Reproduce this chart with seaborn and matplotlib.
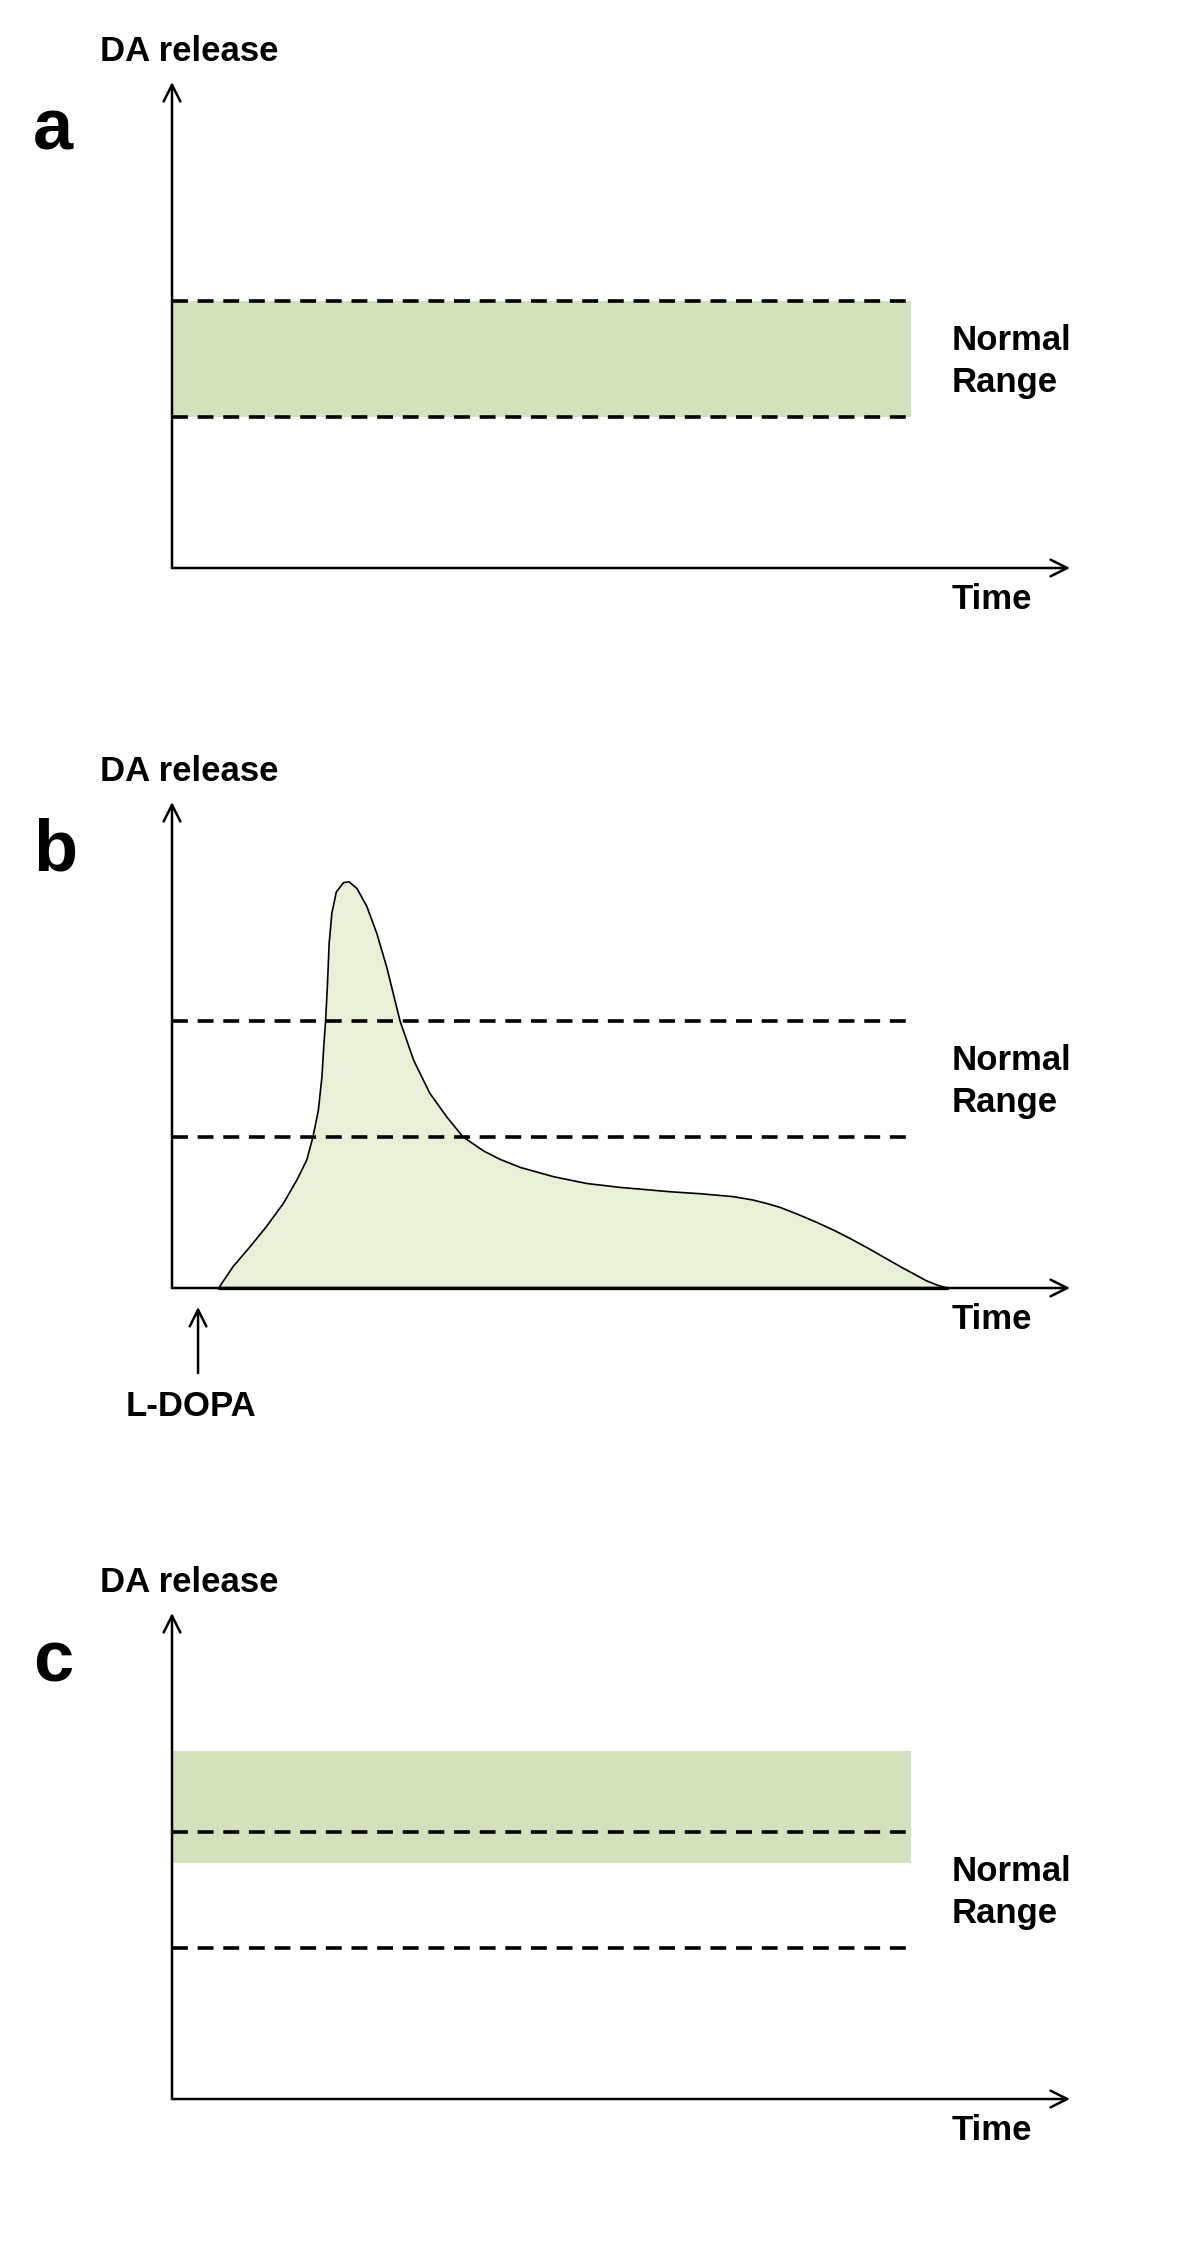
import matplotlib.pyplot as plt
import seaborn as sns

sns.set_style('white')
plt.rcParams['font.family'] = ['Liberation Sans', 'DejaVu Sans']
plt.rcParams['text.color'] = 'black'

# values in axis units (0-100 along each arrow)
normal_low = 31.0
normal_high = 54.9
dash_end = 82.3
band_c_low = 48.6
band_c_high = 71.6
ldopa_at = 2.9

# panel b: DA release after an L-DOPA dose
time_b = [5.2, 6.8, 8.7, 10.5, 12.4, 13.9, 15.0, 15.7, 16.3, 16.7, 16.9,
          17.1, 17.3, 17.5, 17.8, 18.3, 19.1, 19.7, 20.6, 21.7, 22.8, 23.9,
          25.4, 26.9, 28.7, 30.6, 32.4, 34.7, 36.5, 38.8, 42.5, 46.2, 49.9,
          55.5, 58.8, 62.5, 64.7, 66.2, 67.7, 69.9, 71.8, 73.8, 75.6, 77.5,
          79.3, 81.2, 82.7, 84.0, 85.2, 86.3]
da_b = [0.0, 4.4, 8.5, 12.6, 17.4, 22.2, 26.3, 31.1, 36.6, 43.5, 49.7,
        54.9, 62.0, 70.9, 77.1, 81.5, 83.4, 83.6, 82.2, 78.5, 73.0, 66.1,
        54.9, 46.9, 40.1, 35.2, 31.1, 28.2, 26.5, 24.8, 22.9, 21.5, 20.7,
        19.8, 19.4, 18.8, 18.1, 17.4, 16.6, 15.0, 13.5, 11.8, 10.1, 8.2,
        6.3, 4.3, 2.8, 1.5, 0.6, 0.0]

W, H = 1200, 2252
fig = plt.figure(figsize=(W / 100, H / 100), dpi=100)

BAND = '#d3e2bc'
FILL = '#e8f0d8'
TXT = 25
ARROW = dict(arrowstyle='->,head_length=0.6,head_width=0.3', lw=1.8,
             color='black', shrinkA=0, shrinkB=0, mutation_scale=20)


def ftext(x, y, s, size=TXT):
    fig.text(x / W, 1 - y / H, s, fontsize=size, fontweight='bold',
             va='baseline', ha='left', color='black')


def make_panel(axis_y, letter):
    ax = fig.add_axes([172 / W, 1 - axis_y / H, 898 / W, 486 / H])
    ax.set_xlim(0, 100)
    ax.set_ylim(0, 100)
    ax.axis('off')
    ax.annotate('', xy=(1, 0), xytext=(0, 0), xycoords='axes fraction',
                arrowprops=ARROW, annotation_clip=False)
    ax.annotate('', xy=(0, 1), xytext=(0, 0), xycoords='axes fraction',
                arrowprops=ARROW, annotation_clip=False)
    ftext(100, axis_y - 507, 'DA release')
    ftext(33, axis_y - 418, letter, size=52)
    ftext(952, axis_y - 218, 'Normal')
    ftext(952, axis_y - 176, 'Range')
    ftext(952, axis_y + 41, 'Time')
    return ax


def normal_lines(ax):
    for lvl in [normal_low, normal_high]:
        sns.lineplot(x=[0, dash_end], y=[lvl, lvl], ax=ax, color='black',
                     lw=2.6, linestyle=(0, (4.4, 2.7)),
                     clip_on=False, zorder=4)


# a: normal physiological state
ax_a = make_panel(568, 'a')
ax_a.fill_between([0, dash_end], normal_low, normal_high, color=BAND, lw=0)
normal_lines(ax_a)

# b: pulsatile L-DOPA
ax_b = make_panel(1288, 'b')
ax_b.fill_between(time_b, da_b, 0, color=FILL, lw=0, zorder=1)
sns.lineplot(x=time_b, y=da_b, ax=ax_b, color='black', lw=1.2, zorder=3,
             clip_on=False)
sns.lineplot(x=[time_b[0], time_b[-1]], y=[0, 0], ax=ax_b, color='black',
             lw=2.4, zorder=3, clip_on=False)
normal_lines(ax_b)
ax_b.annotate('', xy=(ldopa_at, -3.9), xytext=(ldopa_at, -17.5),
              arrowprops=ARROW, annotation_clip=False)
ftext(126, 1416, 'L-DOPA')

# c: shifted window
ax_c = make_panel(2099, 'c')
ax_c.fill_between([0, dash_end], band_c_low, band_c_high, color=BAND, lw=0)
normal_lines(ax_c)

fig.savefig('out.png', dpi=100)
